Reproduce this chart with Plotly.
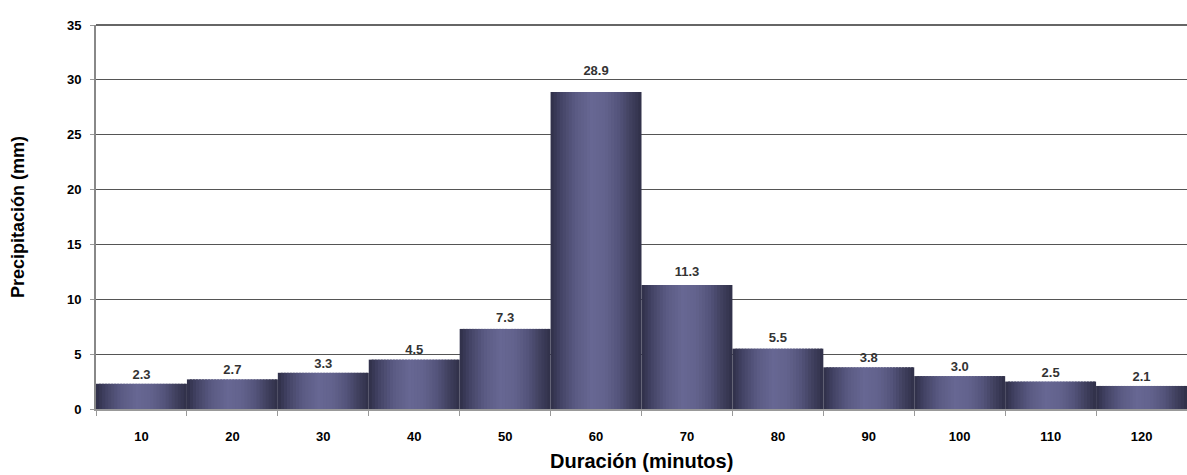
import plotly.graph_objects as go

# Duración de la lluvia (min) y precipitación por intervalo (mm)
duracion = ["10", "20", "30", "40", "50", "60", "70", "80", "90", "100", "110", "120"]
precipitacion = [2.3, 2.7, 3.3, 4.5, 7.3, 28.9, 11.3, 5.5, 3.8, 3.0, 2.5, 2.1]
etiquetas = [f"{v:.1f}" for v in precipitacion]
y_ticks = [0, 5, 10, 15, 20, 25, 30, 35]

# Horizontal shading of each bar: dark edges, lighter centre
stops = [
    (0.00, (0x2f, 0x2f, 0x48)),
    (0.12, (0x45, 0x45, 0x67)),
    (0.28, (0x5b, 0x5b, 0x84)),
    (0.45, (0x67, 0x67, 0x93)),
    (0.60, (0x63, 0x63, 0x8d)),
    (0.75, (0x54, 0x54, 0x7b)),
    (0.88, (0x40, 0x40, 0x5f)),
    (1.00, (0x30, 0x30, 0x48)),
]


def shade(t):
    for (t0, c0), (t1, c1) in zip(stops, stops[1:]):
        if t <= t1:
            f = (t - t0) / (t1 - t0)
            return "rgb({},{},{})".format(*[round(a + (b - a) * f) for a, b in zip(c0, c1)])
    return "rgb({},{},{})".format(*stops[-1][1])


N = 30
fig = go.Figure()
for i in range(N):
    off = -0.5 + i / N
    w = min(1.6 / N, 0.5 - off)
    fig.add_trace(go.Bar(
        x=duracion, y=precipitacion,
        width=w, offset=off,
        marker=dict(color=shade((i + 0.5) / N), line=dict(width=0)),
        showlegend=False, hoverinfo="skip",
    ))

# Value labels sit a little above each bar, the gap growing with the bar height
label_y = [v * 1.041 + 0.64 for v in precipitacion]
fig.add_trace(go.Scatter(
    x=duracion, y=label_y, mode="text", text=etiquetas,
    textposition="middle center",
    textfont=dict(family="Arial, Liberation Sans", size=13, color="#333333", weight="bold"),
    showlegend=False, hoverinfo="skip", cliponaxis=False,
))

title_font = dict(family="Arial, Liberation Sans", weight="bold", color="black")

fig.update_layout(
    width=1187, height=475,
    margin=dict(l=96, r=0, t=25, b=66),
    barmode="overlay",
    plot_bgcolor="white", paper_bgcolor="white",
    font=dict(family="Arial, Liberation Sans", color="black"),
    hovermode=False,
    xaxis=dict(
        type="category", tickson="boundaries", range=[-0.5, len(duracion) - 0.5],
        ticks="outside", ticklen=5, tickcolor="#999999", tickwidth=1,
        showline=True, linecolor="#999999", linewidth=2,
        showgrid=False, ticklabelstandoff=14, automargin=False,
        tickfont=dict(size=13, weight="bold", color="black"),
    ),
    yaxis=dict(
        range=[0, 35], tickvals=y_ticks,
        ticks="outside", ticklen=4, tickcolor="#999999", tickwidth=1,
        showline=True, linecolor="#888888", linewidth=2,
        showgrid=True, gridcolor="#555555", gridwidth=1,
        zeroline=False, ticklabelstandoff=6, automargin=False,
        tickfont=dict(size=13, weight="bold", color="black"),
    ),
    annotations=[
        dict(text="Duración (minutos)", xref="paper", yref="paper", x=0.5, y=0,
             xanchor="center", yanchor="middle", yshift=-52, showarrow=False,
             font=dict(size=20, **title_font)),
        dict(text="Precipitación (mm)", xref="paper", yref="paper", x=0, y=0.5,
             xanchor="center", yanchor="middle", xshift=-78, textangle=-90, showarrow=False,
             font=dict(size=18, **title_font)),
    ],
    shapes=[dict(type="line", xref="paper", yref="paper", x0=0, x1=1, y0=1, y1=1,
                 line=dict(color="#666666", width=2))],
)

fig.write_html("out.html")
